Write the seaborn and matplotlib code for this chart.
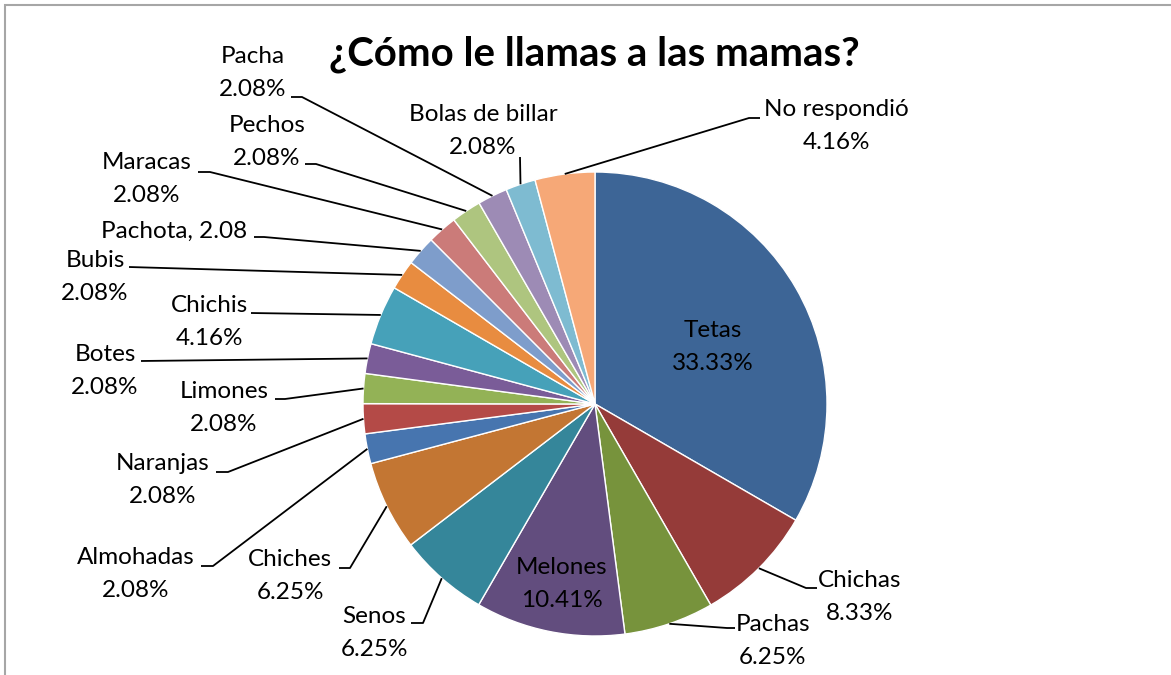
import numpy as np
import matplotlib
matplotlib.use("Agg")
import matplotlib.pyplot as plt
import seaborn as sns
from matplotlib.patches import Rectangle

sns.set_theme(style="white")
plt.rcParams["font.family"] = ["Lato", "DejaVu Sans"]

# data (clockwise from 12 o'clock)
labels = ["Tetas", "Chichas", "Pachas", "Melones", "Senos", "Chiches",
          "Almohadas", "Naranjas", "Limones", "Botes", "Chichis", "Bubis",
          "Pachota", "Maracas", "Pechos", "Pacha", "Bolas de billar", "No respondió"]
values = [33.33, 8.33, 6.25, 10.41, 6.25, 6.25,
          2.08, 2.08, 2.08, 2.08, 4.16, 2.08,
          2.08, 2.08, 2.08, 2.08, 2.08, 4.16]
label_texts = ["Tetas\n33.33%", "Chichas\n8.33%", "Pachas\n6.25%", "Melones\n10.41%",
               "Senos\n6.25%", "Chiches\n6.25%", "Almohadas\n2.08%", "Naranjas\n2.08%",
               "Limones\n2.08%", "Botes\n2.08%", "Chichis\n4.16%", "Bubis\n2.08%",
               "Pachota, 2.08", "Maracas\n2.08%", "Pechos\n2.08%", "Pacha\n2.08%",
               "Bolas de billar\n2.08%", "No respondió\n4.16%"]
colors = ["#3D6596", "#953B39", "#77933C", "#624D7E", "#35869A", "#C37633",
          "#4775AF", "#B44A47", "#93B256", "#7A5C98", "#46A1B9", "#E88C40",
          "#7E9DCB", "#CB7B79", "#AEC57F", "#9D8BB5", "#7EBBD1", "#F6A877"]

# layout in pixels (y from top): text centre, leader elbow, leader end near text
W, H = 1171, 675
CX, CY, R = 595, 404, 232
text_pos = [(713, 347), (860, 597), (773, 641), (562, 584), (374, 633), (290, 576),
            (136, 574), (163, 480), (224, 408), (105, 371), (209, 322), (95, 277),
            (174, 231), (147, 179), (267, 142), (253, 73), (483, 131), (836, 126)]
elbows = [None, (806, 588), (727, 628), None, (423, 623), (350, 568),
          (213, 566), (228, 472), (285, 399), (141, 361), (251, 313), (129, 267),
          (264, 237), (210, 172), (316, 164), (302, 97), (520, 157), (749, 118)]
ends = [None, (817, 588), (735, 628), None, (411, 623), (339, 568),
        (201, 566), (216, 472), (275, 399), (141, 361), (251, 313), (129, 267),
        (254, 237), (198, 172), (305, 164), (291, 97), (520, 157), (760, 118)]

fig = plt.figure(figsize=(W / 100, H / 100), dpi=100)
ax = fig.add_axes([0, 0, 1, 1])
ax.set_xlim(0, W)
ax.set_ylim(0, H)
ax.set_aspect("equal")
ax.axis("off")

wedges, _ = ax.pie(values, colors=sns.color_palette(colors), startangle=90,
                   counterclock=False, radius=R, center=(CX, H - CY),
                   wedgeprops=dict(edgecolor="white", linewidth=1))
ax.set_xlim(0, W)
ax.set_ylim(0, H)

for w, txt, tp, el, en in zip(wedges, label_texts, text_pos, elbows, ends):
    ax.text(tp[0], H - tp[1], txt, ha="center", va="center", fontsize=17.5,
            color="black", linespacing=1.7)
    if el is None:
        continue
    mid = np.deg2rad((w.theta1 + w.theta2) / 2)
    px, py = CX + R * np.cos(mid), H - CY + R * np.sin(mid)
    ax.plot([px, el[0], en[0]], [py, H - el[1], H - en[1]], color="black", lw=1.3,
            solid_capstyle="butt")

ax.text(594, H - 54, "¿Cómo le llamas a las mamas?", ha="center", va="center",
        fontsize=29, fontweight="bold", color="black")

fig.patches.append(Rectangle((5 / W, -0.1), 1.2, (H - 5) / H + 0.1, transform=fig.transFigure,
                             fill=False, edgecolor="#A6A6A6", lw=1.5))

fig.savefig("out.png", dpi=100)
